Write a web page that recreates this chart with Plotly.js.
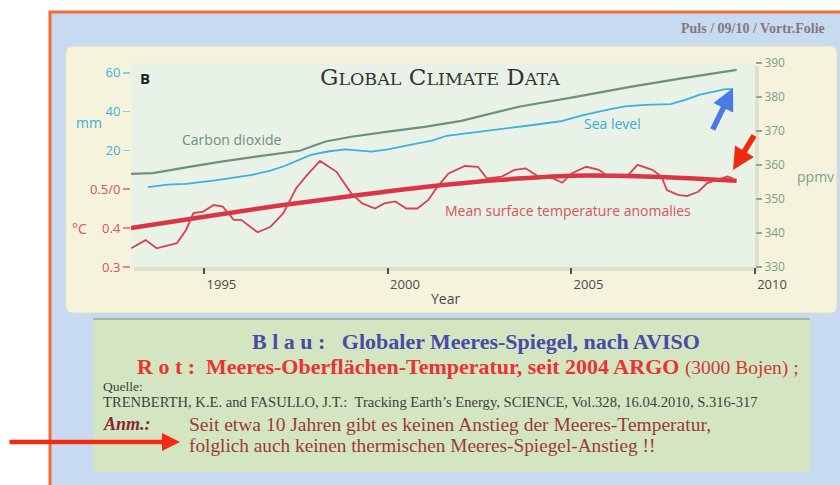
<!DOCTYPE html>
<html>
<head>
<meta charset="utf-8">
<script src="https://cdn.plot.ly/plotly-3.0.1.min.js"></script>
<style>html,body{margin:0;padding:0;background:#fff;}#chart{width:840px;height:485px;}</style>
</head>
<body>
<div id="chart"></div>
<script>
// ---- data ----
const tempYears = [1993.0, 1993.4, 1993.7, 1994.25, 1994.5, 1994.7, 1994.97, 1995.25, 1995.5, 1995.8, 1996.0, 1996.45, 1996.8, 1997.15, 1997.5, 1997.8, 1998.15, 1998.6, 1999.0, 1999.3, 1999.65, 1999.9, 2000.2, 2000.5, 2000.8, 2001.1, 2001.35, 2001.65, 2002.1, 2002.45, 2002.7, 2003.1, 2003.45, 2003.75, 2004.1, 2004.5, 2004.75, 2005.0, 2005.4, 2005.75, 2006.0, 2006.55, 2006.8, 2007.2, 2007.45, 2007.6, 2007.9, 2008.15, 2008.45, 2008.7, 2008.95, 2009.25, 2009.4];
const tempValues = [0.348, 0.369, 0.348, 0.361, 0.395, 0.438, 0.442, 0.459, 0.455, 0.421, 0.421, 0.389, 0.403, 0.438, 0.502, 0.536, 0.572, 0.544, 0.489, 0.463, 0.450, 0.463, 0.468, 0.450, 0.450, 0.472, 0.506, 0.540, 0.559, 0.557, 0.527, 0.532, 0.549, 0.553, 0.532, 0.527, 0.516, 0.540, 0.557, 0.549, 0.532, 0.536, 0.562, 0.549, 0.532, 0.497, 0.485, 0.482, 0.493, 0.515, 0.523, 0.532, 0.527];
const trendYears = [1993, 1995, 1997, 1999, 2001, 2003, 2005, 2007, 2009.5];
const trendValues = [0.400, 0.429, 0.457, 0.482, 0.505, 0.523, 0.534, 0.532, 0.521];
const seaYears = [1993.46, 1994.0, 1994.5, 1995.3, 1996.3, 1996.8, 1997.2, 1997.9, 1998.4, 1998.85, 1999.55, 2000.0, 2000.6, 2001.2, 2001.6, 2002.2, 2003.0, 2004.0, 2004.7, 2005.35, 2006.0, 2006.45, 2007.0, 2007.7, 2008.1, 2008.5, 2009.2, 2009.4];
const seaValues = [1, 2.3, 2.6, 4.5, 7.3, 9.5, 12, 17.6, 19.5, 20.5, 19.3, 20.5, 22.8, 25, 27.5, 28.9, 30.5, 33.2, 35, 38.3, 41, 42.7, 43.5, 43.9, 46, 48.7, 51.6, 51.6];
const co2Years = [1993.0, 1993.6, 1994.5, 1995.46, 1996.5, 1997.6, 1998.3, 1999.0, 2000.0, 2001.0, 2002.0, 2003.6, 2005.0, 2006.6, 2008.0, 2009.5];
const co2Values = [357.4, 357.6, 359.3, 361, 362.6, 364.2, 366.9, 368.3, 369.8, 371.2, 373, 377.2, 379.8, 383, 385.5, 388];
const xTicks = [1995, 2000, 2005, 2010];
const tempTicks = [0.3, 0.4, 0.5];
const tempTickText = ['0.3', '0.4', '0.5/0'];
const mmTicks = [20, 40, 60];
const ppmvTicks = [330, 340, 350, 360, 370, 380, 390];

// ---- pixel -> paper helpers (plot area 131..755 x 63..267) ----
const L = 131, R = 755, T = 63, B = 267;
const px = x => (x - L) / (R - L);
const py = y => (B - y) / (B - T);

function rectShape(x0, y0, x1, y1, fill, lineColor, lineWidth) {
  return {type: 'rect', xref: 'paper', yref: 'paper', layer: 'below',
    x0: px(x0), x1: px(x1), y0: py(y1), y1: py(y0),
    fillcolor: fill, line: {color: lineColor || 'rgba(0,0,0,0)', width: lineWidth || 0}};
}
function roundRect(x0, y0, x1, y1, r, fill, lineColor) {
  const p = (x, y) => px(x) + ',' + py(y);
  const d = 'M' + p(x0 + r, y0) + ' L' + p(x1 - r, y0) + ' Q' + p(x1, y0) + ' ' + p(x1, y0 + r) +
    ' L' + p(x1, y1 - r) + ' Q' + p(x1, y1) + ' ' + p(x1 - r, y1) +
    ' L' + p(x0 + r, y1) + ' Q' + p(x0, y1) + ' ' + p(x0, y1 - r) +
    ' L' + p(x0, y0 + r) + ' Q' + p(x0, y0) + ' ' + p(x0 + r, y0) + ' Z';
  return {type: 'path', xref: 'paper', yref: 'paper', layer: 'below', path: d,
    fillcolor: fill, line: {color: lineColor, width: 1}};
}
function ann(text, x, y, font, xanchor) {
  return {xref: 'paper', yref: 'paper', x: px(x), y: py(y), text: text, showarrow: false,
    xanchor: xanchor || 'left', yanchor: 'middle', font: font};
}
function arrow(hx, hy, tx, ty, color, width) {
  return {xref: 'paper', yref: 'paper', x: px(hx), y: py(hy), ax: tx - hx, ay: ty - hy,
    axref: 'pixel', ayref: 'pixel', text: '', showarrow: true, arrowcolor: color,
    arrowwidth: width, arrowhead: 2, arrowsize: 0.8, standoff: 0};
}

const sans = 'Open Sans, Noto Sans, sans-serif';
const serif = 'Liberation Serif, Times New Roman, serif';
const wideSerif = 'DejaVu Serif, serif';
const NB = '\u00A0';

const traces = [
  {x: co2Years, y: co2Values, yaxis: 'y3', mode: 'lines', line: {color: '#6f8f7f', width: 2.2}, hoverinfo: 'skip'},
  {x: seaYears, y: seaValues, yaxis: 'y2', mode: 'lines', line: {color: '#3eb0dc', width: 1.8}, hoverinfo: 'skip'},
  {x: trendYears, y: trendValues, yaxis: 'y', mode: 'lines', line: {color: '#dc3444', width: 4.5, shape: 'spline'}, hoverinfo: 'skip'},
  {x: tempYears, y: tempValues, yaxis: 'y', mode: 'lines', line: {color: '#d9404e', width: 1.8}, hoverinfo: 'skip'}
];

const layout = {
  width: 840, height: 485,
  margin: {l: L, r: 840 - R, t: T, b: 485 - B, pad: 0},
  paper_bgcolor: '#ffffff',
  plot_bgcolor: 'rgba(0,0,0,0)',
  showlegend: false,
  xaxis: {range: [1993, 2010], tickvals: xTicks, ticktext: xTicks.map(String),
    showgrid: false, zeroline: false, showline: false,
    ticks: 'outside', ticklen: 6, tickwidth: 2, tickcolor: '#505050',
    ticklabelshift: 17, ticklabelstandoff: -1,
    tickfont: {family: sans, size: 13, color: '#4a4a4a'}},
  yaxis: {range: [0.3, 0.3 + 204 / 390], tickvals: tempTicks, ticktext: tempTickText,
    showgrid: false, zeroline: false, showline: false,
    ticks: 'outside', ticklen: 7, tickwidth: 1.5, tickcolor: '#e08890',
    tickfont: {family: sans, size: 13, color: '#d9505e'}},
  yaxis2: {range: [-40.3, 65.1], overlaying: 'y', side: 'left', tickvals: mmTicks,
    showgrid: false, zeroline: false, showline: false,
    ticks: 'outside', ticklen: 7, tickwidth: 1.5, tickcolor: '#8fcce4',
    tickfont: {family: sans, size: 13, color: '#45aed4'}},
  yaxis3: {range: [330, 390], overlaying: 'y', side: 'right', tickvals: ppmvTicks,
    showgrid: false, zeroline: false, showline: false,
    ticks: 'outside', ticklen: 6, tickwidth: 1.5, tickcolor: '#8aa898',
    tickfont: {family: sans, size: 12, color: '#7d9e8e'}},
  shapes: [
    rectShape(50, 12, 860, 500, '#c7dbf0', '#f26b35', 3),
    roundRect(66, 46, 837, 313, 7, '#f5f3dc', '#e2dec2'),
    rectShape(134, 66, 759, 271, 'rgba(140,140,110,0.18)'),
    rectShape(L, T, R, B, '#e9f2e6'),
    rectShape(93, 319, 810, 472, '#d4e6c1'),
    {type: 'line', xref: 'paper', yref: 'paper', layer: 'below', x0: px(93), x1: px(810), y0: py(319), y1: py(319), line: {color: '#9aa89c', width: 1.5}}
  ],
  annotations: [
    ann('<b>Puls / 09/10 / Vortr.Folie</b>', 827, 29, {family: serif, size: 14, color: '#857680'}, 'right'),
    ann('<b>B</b>', 138, 78, {family: sans, size: 15, color: '#222'}),
    ann('G<span style="font-size:17.5px">LOBAL</span> C<span style="font-size:17.5px">LIMATE</span> D<span style="font-size:17.5px">ATA</span>', 440, 77, {family: wideSerif, size: 23, color: '#333'}, 'center'),
    ann('Carbon dioxide', 180, 139, {family: sans, size: 14, color: '#6f8f80'}),
    ann('Sea level', 582, 123, {family: sans, size: 14, color: '#3aaad6'}),
    ann('Mean surface temperature anomalies', 443, 210, {family: sans, size: 14, color: '#d9505e'}),
    ann('mm', 74, 122, {family: sans, size: 14, color: '#40aad2'}),
    ann('°C', 70, 228, {family: sans, size: 14, color: '#d9505e'}),
    ann('ppmv', 795, 176, {family: sans, size: 14, color: '#7d9e8e'}),
    ann('Year', 445, 298, {family: sans, size: 14, color: '#4a4a4a'}, 'center'),
    arrow(733, 88, 712, 131, '#4a7ae8', 5.5),
    arrow(733, 170, 755, 134, '#f02a10', 5.5),
    ann('<b>B' + NB + 'l' + NB + 'a' + NB + 'u' + NB + ':' + NB + NB + NB + 'Globaler Meeres-Spiegel, nach AVISO</b>', 250, 341, {family: serif, size: 22, color: '#4a4aa8'}),
    ann('<b>R' + NB + 'o' + NB + 't' + NB + ':' + NB + NB + 'Meeres-Oberflächen-Temperatur, seit 2004 ARGO</b> <span style="font-size:19.5px;color:#d03838">(3000 Bojen) ;</span>', 135, 366, {family: serif, size: 22, color: '#e83434'}),
    ann('Quelle:', 101, 386, {family: serif, size: 13.5, color: '#404040'}),
    ann('TRENBERTH, K.E. and FASULLO, J.T.:' + NB + NB + 'Tracking Earth\u2019s Energy, SCIENCE, Vol.328, 16.04.2010, S.316-317', 101, 402, {family: serif, size: 14.6, color: '#404040'}),
    ann('<b><i>Anm.:</i></b>', 101, 424, {family: serif, size: 18, color: '#8b2530'}),
    ann('Seit etwa 10 Jahren gibt es keinen Anstieg der Meeres-Temperatur,', 187, 424, {family: serif, size: 19.5, color: '#9a3a3a'}),
    ann('folglich auch keinen thermischen Meeres-Spiegel-Anstieg !!', 187, 445, {family: serif, size: 19.3, color: '#9a3a3a'}),
    arrow(180, 442, 8, 442, '#f22a12', 4.5)
  ]
};

Plotly.newPlot('chart', traces, layout, {displayModeBar: false, staticPlot: true});
</script>
</body>
</html>
